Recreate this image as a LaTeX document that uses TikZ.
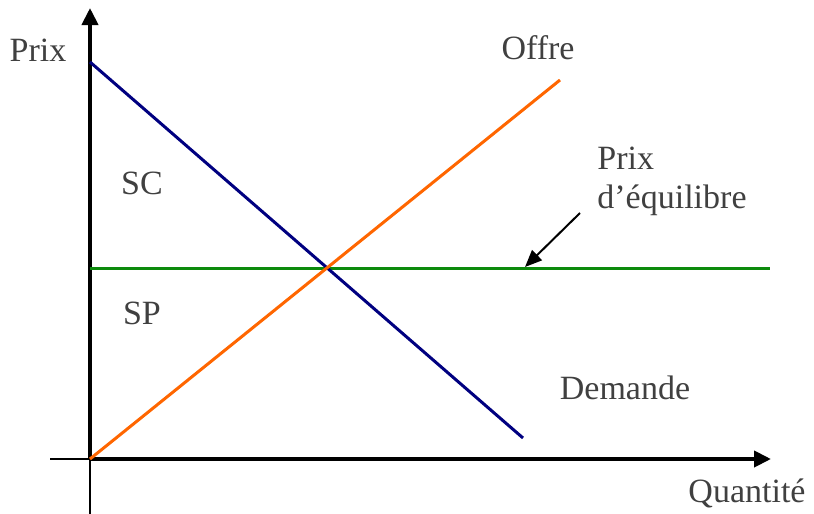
\documentclass[tikz,border=0pt]{standalone}
\usepackage{fontspec}
\setmainfont{Liberation Serif}
\usepackage{xcolor}
\usepackage{tikz}
\usetikzlibrary{arrows.meta}

\definecolor{demandecol}{HTML}{000080}
\definecolor{offrecol}{HTML}{FF6600}
\definecolor{prixcol}{HTML}{0C8A0C}
\definecolor{textcol}{HTML}{404040}

\tikzset{
  axe/.style={line width=2pt, -{Triangle[length=8.5pt,width=8pt]}},
  axefin/.style={line width=0.75pt},
  courbe/.style={line width=1.5pt},
  etiq/.style={text=textcol, inner sep=0pt, font=\fontsize{17}{19.5}\selectfont}
}

\begin{document}
\begin{tikzpicture}[x=0.5pt,y=-0.5pt]
	\useasboundingbox (0,0) rectangle (814,514);

	% axes
	\coordinate (O) at (90,459);
	\coordinate (ybas) at (90,514);
	\coordinate (yhaut) at (90,8);
	\coordinate (xgauche) at (50,459);
	\coordinate (xdroite) at (771,459);
	\draw[axefin] (ybas) -- (O);
	\draw[axefin] (xgauche) -- (O);
	\draw[axe] (O) -- (yhaut);
	\draw[axe] (O) -- (xdroite);

	% courbes
	\coordinate (dA) at (90,62);
	\coordinate (dB) at (523,438);
	\coordinate (oB) at (560,80);
	\coordinate (pA) at (90,268);
	\coordinate (pB) at (770,268);
	\draw[courbe, prixcol] (pA) -- (pB);
	\draw[courbe, demandecol] (dA) -- (dB);
	\draw[courbe, offrecol] (O) -- (oB);

	% etiquettes
	\node[etiq] (prix) at (38,50) {Prix};
	\node[etiq] (quantite) at (747,493) {Quantité};
	\node[etiq] (offre) at (538,48) {Offre};
	\node[etiq] (demande) at (625,388) {Demande};
	\node[etiq] (sc) at (142,183) {SC};
	\node[etiq] (sp) at (142,313) {SP};
	\node[etiq, align=left] (equil) at (672,181) {Prix\\d’équilibre};

	\coordinate (fleche) at (580,213);
	\coordinate (cible) at (525,267);
	\draw[line width=1pt, -{Triangle[length=8.5pt,width=7pt]}] (fleche) -- (cible);
\end{tikzpicture}
\end{document}
